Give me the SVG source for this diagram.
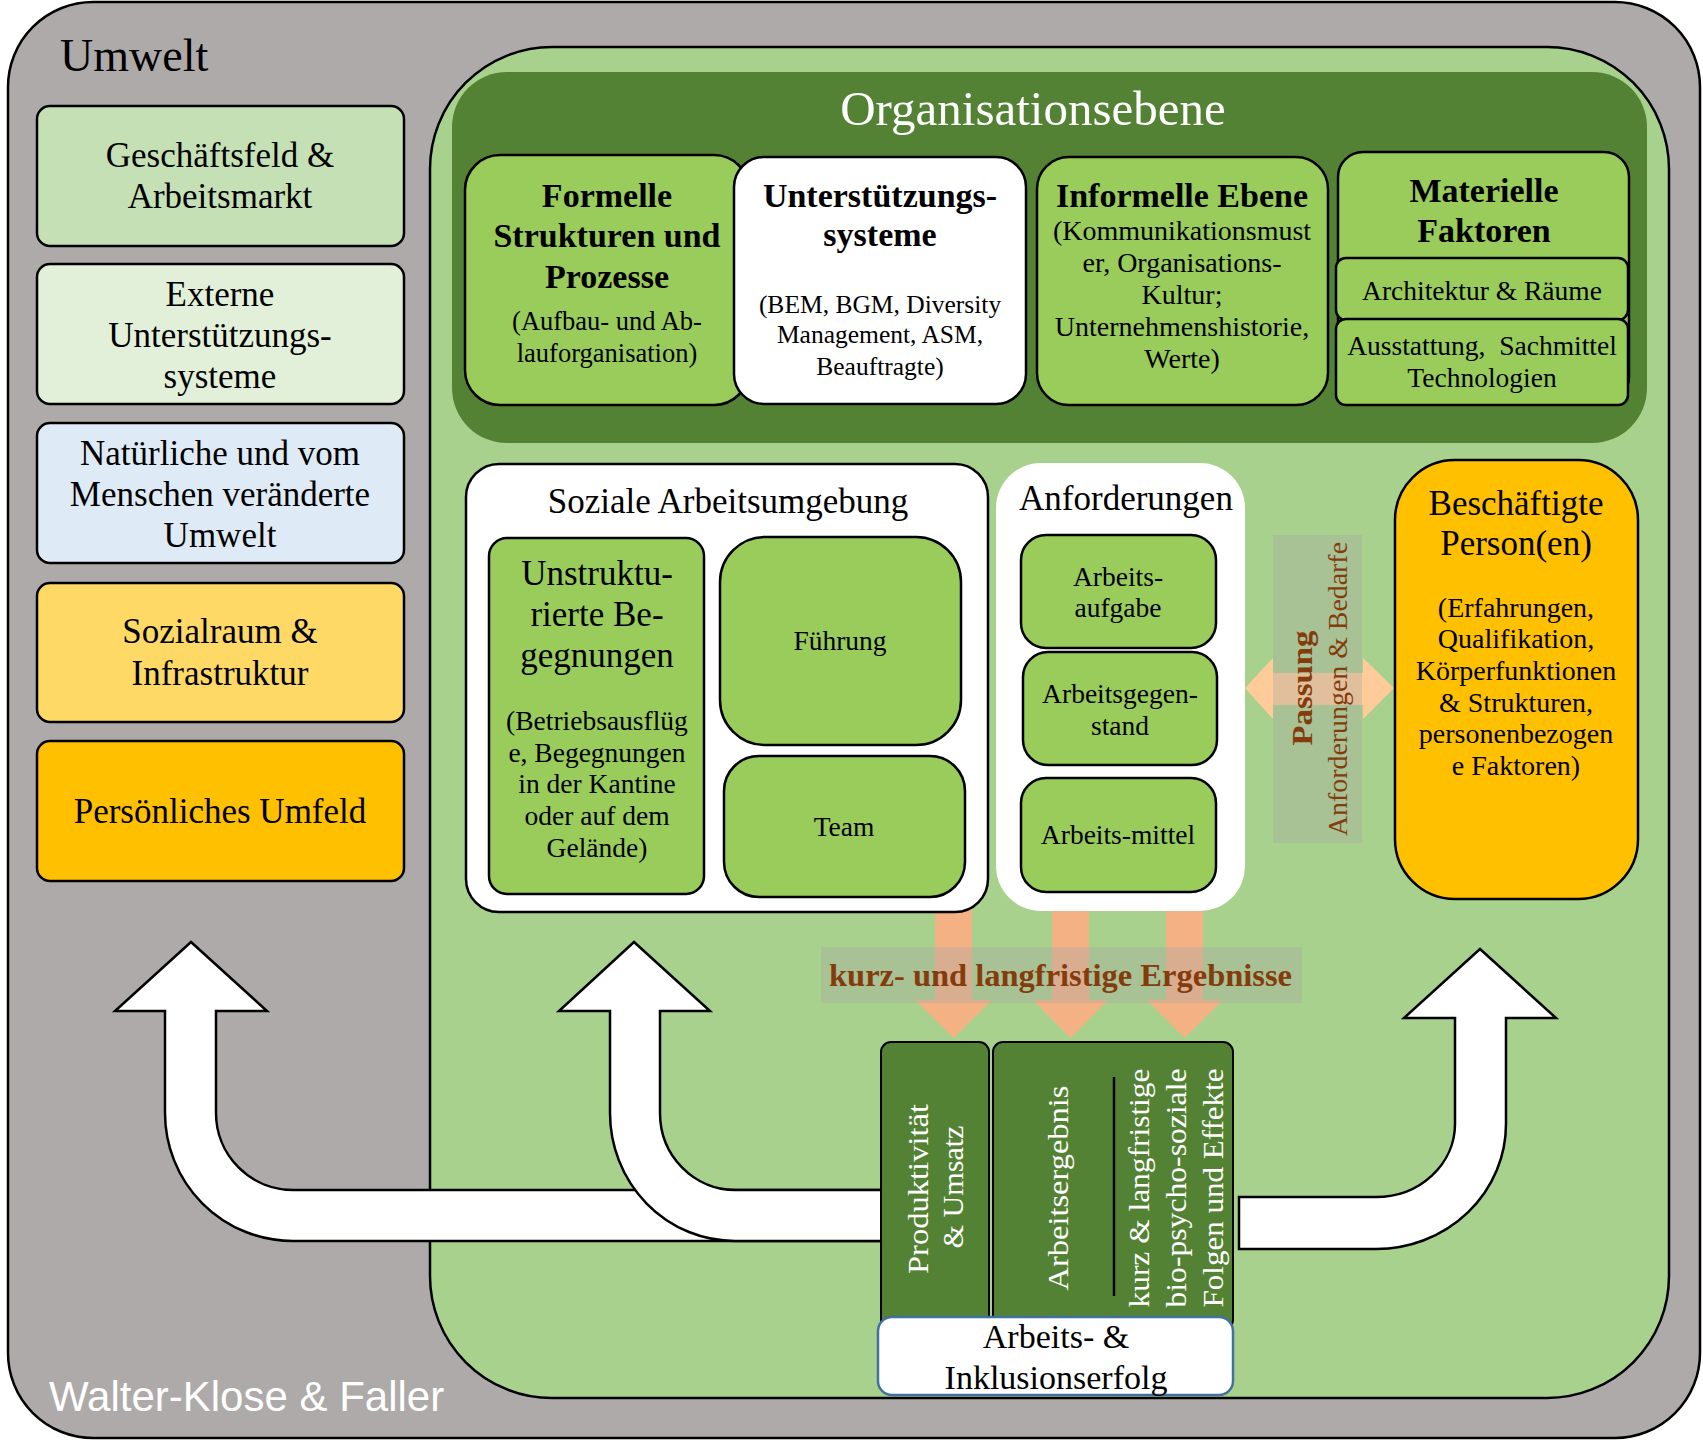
<svg xmlns="http://www.w3.org/2000/svg" width="1703" height="1440" viewBox="0 0 1703 1440">
  <style>
    text { font-family: "Liberation Serif", "Times New Roman", serif; fill: #000; }
    .c { text-anchor: middle; }
    .b { font-weight: bold; }
    .w { fill: #fff; }
    .brown { fill: #843C0C; }
    .ln { stroke: #000; stroke-width: 2.5; }
    .lg { fill: #99CC5B; stroke: #000; stroke-width: 2.5; }
    .dg { fill: #548235; stroke: #000; stroke-width: 2; }
    .s35 { font-size: 35px; }
    .s28 { font-size: 28px; }
    .s27 { font-size: 27.5px; }
    .s34b { font-size: 34px; font-weight: bold; }
    .orange { fill: #F4B183; }
    .veil { fill: #A6A6A6; fill-opacity: 0.35; }
    .blk { fill: #fff; stroke: #000; stroke-width: 2.5; stroke-linejoin: miter; }
  </style>

  <!-- environment frame -->
  <g id="umwelt">
    <rect x="8" y="2" width="1692" height="1436" rx="85" fill="#AEAAAA" class="ln"/>
    <text x="60" y="71" font-size="46">Umwelt</text>
  </g>

  <!-- environment factors, left column -->
  <g id="geschaeftsfeld">
    <rect x="37" y="106" width="367" height="140" rx="13" fill="#C5E0B4" class="ln"/>
    <text class="c s35" x="220" y="167">Geschäftsfeld &amp;</text>
    <text class="c s35" x="220" y="208">Arbeitsmarkt</text>
  </g>
  <g id="externe-unterstuetzung">
    <rect x="37" y="264" width="367" height="140" rx="13" fill="#E2F0D9" class="ln"/>
    <text class="c s35" x="220" y="306">Externe</text>
    <text class="c s35" x="220" y="347">Unterstützungs-</text>
    <text class="c s35" x="220" y="388">systeme</text>
  </g>
  <g id="natuerliche-umwelt">
    <rect x="37" y="423" width="367" height="140" rx="13" fill="#DEEBF7" class="ln"/>
    <text class="c s35" x="220" y="465">Natürliche und vom</text>
    <text class="c s35" x="220" y="506">Menschen veränderte</text>
    <text class="c s35" x="220" y="547">Umwelt</text>
  </g>
  <g id="sozialraum">
    <rect x="37" y="583" width="367" height="139" rx="13" fill="#FFD966" class="ln"/>
    <text class="c s35" x="220" y="643">Sozialraum &amp;</text>
    <text class="c s35" x="220" y="685">Infrastruktur</text>
  </g>
  <g id="persoenliches-umfeld">
    <rect x="37" y="741" width="367" height="140" rx="13" fill="#FFC000" class="ln"/>
    <text class="c s35" x="220" y="823">Persönliches Umfeld</text>
  </g>

  <!-- company area -->
  <g id="betrieb">
    <rect x="430" y="47" width="1239" height="1351" rx="122" fill="#A9D18E" class="ln"/>
  </g>

  <!-- organisational level -->
  <g id="organisationsebene">
    <rect x="452" y="72" width="1195" height="371" rx="55" fill="#548235"/>
    <text class="c w" x="1033" y="125" font-size="49">Organisationsebene</text>
  </g>
  <g id="formelle-strukturen">
    <rect x="465" y="155" width="284" height="250" rx="35" class="lg"/>
    <text class="c s34b" x="607" y="207">Formelle</text>
    <text class="c s34b" x="607" y="247">Strukturen und</text>
    <text class="c s34b" x="607" y="288">Prozesse</text>
    <text class="c" x="607" y="330" font-size="26.5">(Aufbau- und Ab-</text>
    <text class="c" x="607" y="362" font-size="26.5">lauforganisation)</text>
  </g>
  <g id="unterstuetzungssysteme">
    <rect x="734" y="157" width="292" height="247" rx="30" fill="#fff" class="ln"/>
    <text class="c s34b" x="880" y="207">Unterstützungs-</text>
    <text class="c s34b" x="880" y="246">systeme</text>
    <text class="c" x="880" y="313" font-size="25.5">(BEM, BGM, Diversity</text>
    <text class="c" x="880" y="343" font-size="25.5">Management, ASM,</text>
    <text class="c" x="880" y="375" font-size="25.5">Beauftragte)</text>
  </g>
  <g id="informelle-ebene">
    <rect x="1037" y="157" width="291" height="248" rx="32" class="lg"/>
    <text class="c s34b" x="1182" y="207">Informelle Ebene</text>
    <text class="c s28" x="1182" y="240">(Kommunikationsmust</text>
    <text class="c s28" x="1182" y="272">er, Organisations-</text>
    <text class="c s28" x="1182" y="304">Kultur;</text>
    <text class="c s28" x="1182" y="336">Unternehmenshistorie,</text>
    <text class="c s28" x="1182" y="368">Werte)</text>
  </g>
  <g id="materielle-faktoren">
    <rect x="1338" y="152" width="291" height="250" rx="25" class="lg"/>
    <text class="c s34b" x="1484" y="202">Materielle</text>
    <text class="c s34b" x="1484" y="242">Faktoren</text>
  </g>
  <g id="architektur">
    <rect x="1336" y="258" width="292" height="62" rx="10" class="lg"/>
    <text class="c s27" x="1482" y="300">Architektur &amp; Räume</text>
  </g>
  <g id="ausstattung">
    <rect x="1336" y="319" width="292" height="86" rx="10" class="lg"/>
    <text class="c s27" x="1482" y="355" xml:space="preserve">Ausstattung,  Sachmittel</text>
    <text class="c s27" x="1482" y="387">Technologien</text>
  </g>

  <!-- connectors: result arrows, fit arrow, feedback arrows -->
  <g id="connectors">
    <path class="orange" d="M935 905 H972 V1000 H992 L953.5 1038 L915 1000 H935 Z"/>
    <path class="orange" d="M1052 905 H1089 V1000 H1108 L1070.5 1038 L1033 1000 H1052 Z"/>
    <path class="orange" d="M1166 905 H1203 V1000 H1223 L1184.5 1038 L1147 1000 H1166 Z"/>
    <path fill="#FFCC99" d="M1245 688 L1273 658 V673 H1363 V658 L1394 688 L1363 719 V705 H1273 V719 Z"/>
    <path class="blk" d="M191 942 L267 1011 L216 1011 L216 1113 A77 77 0 0 0 293 1190 L888 1190 L888 1241 L293 1241 A128 128 0 0 1 165 1113 L165 1011 L115 1011 Z"/>
    <path class="blk" d="M634 942 L710 1011 L660 1011 L660 1113 A75 77 0 0 0 735 1190 L888 1190 L888 1241 L735 1241 A125 128 0 0 1 610 1113 L610 1011 L559 1011 Z"/>
    <path class="blk" d="M1480 949 L1556 1018 L1506 1018 L1506 1124 A130 125 0 0 1 1376 1249 L1239 1249 L1239 1197 L1376 1197 A79 73 0 0 0 1455 1124 L1455 1018 L1404 1018 Z"/>
  </g>

  <!-- social work environment -->
  <g id="soziale-arbeitsumgebung">
    <rect x="466" y="464" width="522" height="448" rx="33" fill="#fff" class="ln"/>
    <text class="c s35" x="728" y="513">Soziale Arbeitsumgebung</text>
  </g>
  <g id="unstrukturierte-begegnungen">
    <rect x="489" y="538" width="215" height="356" rx="18" class="lg"/>
    <text class="c s35" x="597" y="585">Unstruktu-</text>
    <text class="c s35" x="597" y="626">rierte Be-</text>
    <text class="c s35" x="597" y="667">gegnungen</text>
    <text class="c s27" x="597" y="730">(Betriebsausflüg</text>
    <text class="c s27" x="597" y="762">e, Begegnungen</text>
    <text class="c s27" x="597" y="793">in der Kantine</text>
    <text class="c s27" x="597" y="825">oder auf dem</text>
    <text class="c s27" x="597" y="857">Gelände)</text>
  </g>
  <g id="fuehrung">
    <rect x="720" y="537" width="241" height="208" rx="45" class="lg"/>
    <text class="c s27" x="840" y="650">Führung</text>
  </g>
  <g id="team">
    <rect x="724" y="756" width="241" height="141" rx="35" class="lg"/>
    <text class="c s27" x="844" y="836">Team</text>
  </g>

  <!-- job demands -->
  <g id="anforderungen">
    <rect x="996" y="463" width="249" height="448" rx="45" fill="#fff"/>
    <text class="c s35" x="1126" y="510">Anforderungen</text>
  </g>
  <g id="arbeitsaufgabe">
    <rect x="1021" y="535" width="195" height="113" rx="25" class="lg"/>
    <text class="c s27" x="1118" y="586">Arbeits-</text>
    <text class="c s27" x="1118" y="617">aufgabe</text>
  </g>
  <g id="arbeitsgegenstand">
    <rect x="1023" y="652" width="194" height="113" rx="25" class="lg"/>
    <text class="c s27" x="1120" y="703">Arbeitsgegen-</text>
    <text class="c s27" x="1120" y="735">stand</text>
  </g>
  <g id="arbeitsmittel">
    <rect x="1021" y="778" width="195" height="114" rx="25" class="lg"/>
    <text class="c s27" x="1118" y="844">Arbeits-mittel</text>
  </g>

  <!-- fit between demands and person -->
  <g id="passung">
    <rect class="veil" x="1273" y="535" width="89" height="308"/>
    <text class="c b brown" transform="translate(1312 688) rotate(-90)" font-size="30" textLength="115" lengthAdjust="spacingAndGlyphs">Passung</text>
    <text class="c brown" transform="translate(1347 689) rotate(-90)" font-size="28" textLength="294" lengthAdjust="spacingAndGlyphs">Anforderungen &amp; Bedarfe</text>
  </g>

  <!-- employed person(s) -->
  <g id="beschaeftigte-personen">
    <rect x="1395" y="460" width="243" height="439" rx="60" fill="#FFC000" class="ln"/>
    <text class="c s35" x="1516" y="515">Beschäftigte</text>
    <text class="c s35" x="1516" y="555">Person(en)</text>
    <text class="c s28" x="1516" y="617">(Erfahrungen,</text>
    <text class="c s28" x="1516" y="648">Qualifikation,</text>
    <text class="c s28" x="1516" y="680">Körperfunktionen</text>
    <text class="c s28" x="1516" y="712">&amp; Strukturen,</text>
    <text class="c s28" x="1516" y="743">personenbezogen</text>
    <text class="c s28" x="1516" y="775">e Faktoren)</text>
  </g>

  <!-- results label -->
  <g id="ergebnisse">
    <rect class="veil" x="821" y="947" width="481" height="56"/>
    <text class="b brown" x="829" y="986" font-size="31" textLength="463" lengthAdjust="spacingAndGlyphs">kurz- und langfristige Ergebnisse</text>
  </g>

  <!-- outcomes -->
  <g id="produktivitaet">
    <rect x="881" y="1042" width="108" height="288" rx="10" class="dg"/>
    <text class="c w" transform="translate(928 1189) rotate(-90)" font-size="30" textLength="170" lengthAdjust="spacingAndGlyphs">Produktivität</text>
    <text class="c w" transform="translate(963 1187) rotate(-90)" font-size="30" textLength="123" lengthAdjust="spacingAndGlyphs">&amp; Umsatz</text>
  </g>
  <g id="arbeitsergebnis">
    <rect x="993" y="1042" width="240" height="288" rx="10" class="dg"/>
    <text class="c w" transform="translate(1068 1188) rotate(-90)" font-size="30" textLength="205" lengthAdjust="spacingAndGlyphs">Arbeitsergebnis</text>
    <line x1="1114" y1="1077" x2="1114" y2="1296" stroke="#000" stroke-width="2.5"/>
    <text class="c w" transform="translate(1149 1188) rotate(-90)" font-size="30" textLength="239" lengthAdjust="spacingAndGlyphs">kurz &amp; langfristige</text>
    <text class="c w" transform="translate(1186 1188) rotate(-90)" font-size="30" textLength="239" lengthAdjust="spacingAndGlyphs">bio-psycho-soziale</text>
    <text class="c w" transform="translate(1223 1188) rotate(-90)" font-size="30" textLength="239" lengthAdjust="spacingAndGlyphs">Folgen und Effekte</text>
  </g>
  <g id="inklusionserfolg">
    <rect x="878" y="1317" width="355" height="78" rx="14" fill="#fff" stroke="#41719C" stroke-width="2.5"/>
    <text class="c" x="1056" y="1348" font-size="34">Arbeits- &amp;</text>
    <text class="c" x="1056" y="1389" font-size="34">Inklusionserfolg</text>
  </g>

  <!-- authors -->
  <text x="49" y="1411" font-family="'Liberation Sans', Arial, sans-serif" font-size="42" style="font-family:'Liberation Sans', Arial, sans-serif" class="w">Walter-Klose &amp; Faller</text>
</svg>
